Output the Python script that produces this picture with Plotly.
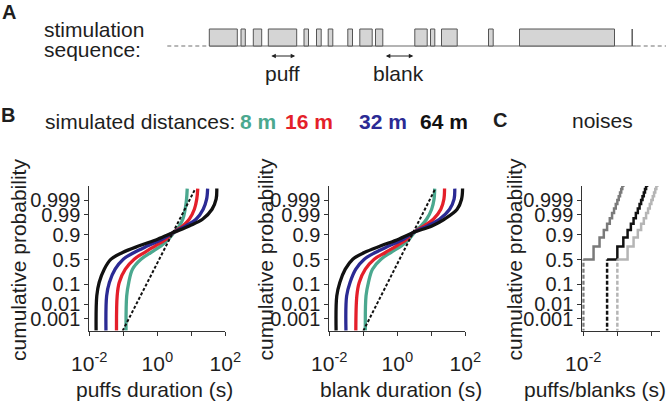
import plotly.graph_objects as go
from statistics import NormalDist

# ---------------- data ----------------
# Panel A: example stimulation sequence, durations in s
seq_puffs = [2.8, 0.43, 0.84, 2.84, 0.45, 0.47, 0.46, 0.47, 1.24, 0.73, 1.24, 0.43, 1.57, 0.47, 9.5, 0.05]
seq_blanks = [0.37, 0.8, 0.66, 0.73, 0.8, 0.7, 1.5, 0.73, 0.33, 3.2, 0.33, 0.67, 3.13, 2.63, 1.77]

# Panel B: cumulative probability levels shared by the simulated curves
cum_prob = [0.0001, 0.029, 0.115, 0.307, 0.507, 0.642, 0.762, 0.855, 0.920,
            0.960, 0.982, 0.9956, 0.99916, 0.99989]

# log10(duration / s) at each cumulative probability level
puff_8m = [-0.92, -0.90, -0.84, -0.73, -0.48, -0.19, 0.11, 0.33, 0.49, 0.65, 0.75, 0.82, 0.86, 0.88]
puff_16m = [-1.20, -1.18, -1.12, -0.94, -0.68, -0.38, -0.06, 0.26, 0.47, 0.75, 0.94, 1.09, 1.16, 1.19]
puff_32m = [-1.51, -1.49, -1.41, -1.24, -1.00, -0.68, -0.28, 0.14, 0.47, 0.84, 1.14, 1.35, 1.45, 1.48]
puff_64m = [-1.80, -1.78, -1.71, -1.56, -1.36, -1.02, -0.53, 0.01, 0.47, 0.94, 1.33, 1.61, 1.73, 1.75]

blank_8m = [-0.94, -0.92, -0.85, -0.73, -0.48, -0.19, 0.12, 0.35, 0.50, 0.70, 0.86, 1.01, 1.08, 1.10]
blank_16m = [-1.22, -1.19, -1.12, -0.94, -0.68, -0.35, -0.02, 0.28, 0.47, 0.79, 1.06, 1.28, 1.37, 1.39]
blank_32m = [-1.51, -1.49, -1.39, -1.22, -0.97, -0.65, -0.24, 0.18, 0.47, 0.89, 1.24, 1.54, 1.67, 1.69]
blank_64m = [-1.80, -1.78, -1.69, -1.53, -1.31, -0.97, -0.48, 0.04, 0.47, 1.02, 1.38, 1.76, 1.89, 1.92]

# lognormal reference (dashed)
lognorm_prob = [0.0001, 0.99989]
puff_lognorm = [-1.02, 1.12]
blank_lognorm = [-1.00, 1.12]

distances = ["8 m", "16 m", "32 m", "64 m"]
dist_colors = ["#4ba88f", "#e41f2a", "#2b2a94", "#111111"]

# Panel C: noise sequences (duration in s, cumulative probability)
noise_prob = [0.5, 0.75, 0.875, 0.9375, 0.96875, 0.984375, 0.9921875, 0.99609375,
              0.998046875, 0.9990234375, 0.99951171875, 0.999755859375,
              0.9998779296875, 0.99993896484375, 0.999969482421875]
noise_fast = [0.01, 0.02, 0.03, 0.04, 0.05, 0.06, 0.07, 0.08, 0.09, 0.10, 0.11, 0.12, 0.13, 0.14, 0.15]
noise_mid = [0.05, 0.10, 0.15, 0.20, 0.25, 0.30, 0.35, 0.40, 0.45, 0.50, 0.55, 0.60, 0.65, 0.70, 0.75]
noise_slow = [0.1, 0.2, 0.3, 0.4, 0.5, 0.6, 0.7, 0.8, 0.9, 1.0, 1.1, 1.2, 1.3, 1.4, 1.5]
noise_colors = ["#7a7a7a", "#111111", "#b5b5b5"]

prob_ticks = [0.001, 0.01, 0.1, 0.5, 0.9, 0.99, 0.999]
prob_tick_labels = ["0.001", "0.01", "0.1", "0.5", "0.9", "0.99", "0.999"]

# ---------------- helpers ----------------
W, H = 666, 405
FONT = "Arial, Liberation Sans, Helvetica, sans-serif"
TXT = "#1e1e1e"
FS = 21
nd = NormalDist()


def px(x):
    return x / W


def py(y):
    return 1 - y / H


def probit(ps):
    return [nd.inv_cdf(p) for p in ps]


fig = go.Figure()

# ---------------- panel A ----------------
starts, ends = [], []
t = 0.0
for i, d in enumerate(seq_puffs):
    if i > 0:
        t += seq_blanks[i - 1]
    starts.append(t)
    ends.append(t + d)
    t += d

bx, by = [], []
for s, e in zip(starts, ends):
    bx += [s, s, e, e, s, None]
    by += [0, 1, 1, 0, 0, None]

lead_in, tail = 4.2, 0.4
fig.add_trace(go.Scatter(x=[-lead_in, starts[0]], y=[0, 0], mode="lines",
                         line=dict(color="#707070", width=1.2, dash="4px,3px"),
                         xaxis="x4", yaxis="y4", showlegend=False, hoverinfo="skip"))
fig.add_trace(go.Scatter(x=[ends[-1] + tail, ends[-1] + tail + 3.2], y=[0, 0], mode="lines",
                         line=dict(color="#707070", width=1.2, dash="4px,3px"),
                         xaxis="x4", yaxis="y4", showlegend=False, hoverinfo="skip"))
fig.add_trace(go.Scatter(x=[starts[0], ends[-1] + tail], y=[0, 0], mode="lines",
                         line=dict(color="#6a6a6a", width=1.2),
                         xaxis="x4", yaxis="y4", showlegend=False, hoverinfo="skip"))
fig.add_trace(go.Scatter(x=bx, y=by, mode="lines", fill="toself", fillcolor="#d5d5d5",
                         line=dict(color="#555555", width=1),
                         xaxis="x4", yaxis="y4", showlegend=False, hoverinfo="skip"))

# ---------------- panel B ----------------
zc = probit(cum_prob)
for vals, col in zip([puff_8m, puff_16m, puff_32m, puff_64m], dist_colors):
    fig.add_trace(go.Scatter(x=[10 ** v for v in vals], y=zc, mode="lines",
                             line=dict(color=col, width=3.3, shape="spline", smoothing=1.0),
                             xaxis="x", yaxis="y", showlegend=False))
fig.add_trace(go.Scatter(x=[10 ** v for v in puff_lognorm], y=probit(lognorm_prob), mode="lines",
                         line=dict(color="#111111", width=2, dash="3px,2px"),
                         xaxis="x", yaxis="y", showlegend=False))
for vals, col in zip([blank_8m, blank_16m, blank_32m, blank_64m], dist_colors):
    fig.add_trace(go.Scatter(x=[10 ** v for v in vals], y=zc, mode="lines",
                             line=dict(color=col, width=3.3, shape="spline", smoothing=1.0),
                             xaxis="x2", yaxis="y2", showlegend=False))
fig.add_trace(go.Scatter(x=[10 ** v for v in blank_lognorm], y=probit(lognorm_prob), mode="lines",
                         line=dict(color="#111111", width=2, dash="3px,2px"),
                         xaxis="x2", yaxis="y2", showlegend=False))

# ---------------- panel C ----------------
zero_prob = 1e-6
for vals, col in zip([noise_fast, noise_mid, noise_slow], noise_colors):
    fig.add_trace(go.Scatter(x=[vals[0], vals[0]], y=probit([zero_prob, noise_prob[0]]), mode="lines",
                             line=dict(color=col, width=2.5, dash="4px,2px"),
                             xaxis="x3", yaxis="y3", showlegend=False))
    fig.add_trace(go.Scatter(x=vals, y=probit(noise_prob), mode="lines",
                             line=dict(color=col, width=2.5, shape="hv"),
                             xaxis="x3", yaxis="y3", showlegend=False))

# ---------------- axes ----------------
yr = [-3.70, 3.83]
ydom = [py(330.5), py(186)]
ax_common = dict(showline=True, linecolor="#333333", linewidth=1, ticks="outside",
                 ticklen=4, tickwidth=1, tickcolor="#333333", showgrid=False,
                 zeroline=False, automargin=False)
yax = dict(ax_common, range=yr, domain=ydom, tickvals=probit(prob_ticks),
           ticktext=prob_tick_labels, tickfont=dict(family=FONT, size=20, color=TXT))
xtf = dict(family=FONT, size=21, color=TXT)
xb_ticks = [0.01, 0.1, 1, 10, 100]
xb_text = ["10<sup>-2</sup>", "", "10<sup>0</sup>", "", "10<sup>2</sup>"]

fig.update_layout(
    width=W, height=H, autosize=False, margin=dict(l=0, r=0, t=0, b=0, pad=0),
    paper_bgcolor="white", plot_bgcolor="white", showlegend=False,
    xaxis=dict(ax_common, type="log", range=[-2, 2], domain=[px(89.3), px(225.3)],
               tickvals=xb_ticks, ticktext=xb_text, anchor="y", tickfont=xtf, ticklabelstandoff=10),
    yaxis=dict(yax, anchor="x"),
    xaxis2=dict(ax_common, type="log", range=[-2, 2], domain=[px(329.3), px(465.3)],
                tickvals=xb_ticks, ticktext=xb_text, anchor="y2", tickfont=xtf, ticklabelstandoff=10),
    yaxis2=dict(yax, anchor="x2"),
    xaxis3=dict(ax_common, type="log", range=[-2.03, 0.26], domain=[px(582.3), px(660.2)],
                tickvals=[0.01, 0.1, 1], ticktext=["10<sup>-2</sup>", "", "10<sup>0</sup>"],
                anchor="y3", tickfont=xtf, ticklabelstandoff=10),
    yaxis3=dict(yax, anchor="x3"),
    xaxis4=dict(range=[-20.93, 45.67], domain=[0, 1], visible=False, anchor="y4", automargin=False),
    yaxis4=dict(range=[-0.8235, 1.5294], domain=[py(60), py(20)], visible=False, anchor="x4",
                automargin=False),
)


def ann(text, x, y, size=FS, bold=False, color=TXT, xanchor="center", angle=0, xref="paper"):
    fig.add_annotation(text=f"<b>{text}</b>" if bold else text, x=x, y=y, xref=xref, yref="paper",
                       showarrow=False, xanchor=xanchor, yanchor="middle", textangle=angle,
                       font=dict(family=FONT, size=size, color=color))


# panel letters and labels
ann("A", px(9), py(12), size=20, bold=True)
ann("B", px(8), py(115), size=20, bold=True)
ann("C", px(500), py(120), size=20, bold=True)
ann("stimulation", px(42), py(29.7), xanchor="left")
ann("sequence:", px(42), py(49), xanchor="left")
ann("simulated distances:", px(43), py(121.3), xanchor="left")
for name, col, xl in zip(distances, dist_colors, [238, 283, 357, 418]):
    ann(name, px(xl), py(121.3), bold=True, color=col, xanchor="left")
ann("noises", px(602), py(120))

# double arrows for puff and blank
pi, bi = 3, 9
for x0, x1, lab in [(starts[pi], ends[pi], "puff"), (ends[bi], starts[bi + 1], "blank")]:
    fig.add_annotation(x=x1, y=-0.588, ax=x0, ay=-0.588, xref="x4", yref="y4", axref="x4", ayref="y4",
                       text="", showarrow=True, arrowhead=2, startarrowhead=2, arrowside="end+start",
                       arrowsize=0.9, startarrowsize=0.9, arrowwidth=1, arrowcolor="#222222",
                       standoff=1.5, startstandoff=1.5)
    ann(lab, (x0 + x1) / 2, py(73.5), xref="x4")

# axis titles
for txt, xc in [("puffs duration (s)", 154), ("blank duration (s)", 401), ("puffs/blanks (s)", 595)]:
    ann(txt, px(xc), py(389))
for xc in [18, 264.5, 513.5]:
    ann("cumulative probability", px(xc), py(260), angle=-90)

fig.write_html("out.html", config={"displayModeBar": False, "responsive": False},
               post_script="document.body.style.margin='0px';")
